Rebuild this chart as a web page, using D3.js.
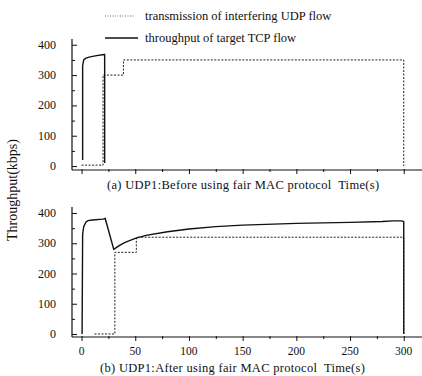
<!DOCTYPE html>
<html>
<head>
<meta charset="utf-8">
<script src="https://cdn.jsdelivr.net/npm/d3@7"></script>
<style>
  body { margin: 0; background: #fff; }
  svg text { font-family: "Liberation Serif", "DejaVu Serif", serif; fill: #111; }
</style>
</head>
<body>
<div id="chart"></div>
<script>
// panel (a): before fair MAC
const tcpBefore = [[1, 20], [1, 330], [2, 350], [4, 356], [8, 360], [14, 364], [21, 368], [21.5, 368], [21.5, 10]];
const udpBefore = [[0, 3], [20, 3], [20, 300], [39, 300], [39, 350], [300, 350], [300, 0]];

// panel (b): after fair MAC
const tcpAfter = [[0.5, 0], [1, 330], [2, 355], [4, 370], [6, 375], [10, 377], [20, 380], [22, 382],
  [30, 280], [35, 292], [40, 302], [50, 316], [60, 326], [80, 338], [100, 347], [125, 355],
  [150, 360], [200, 366], [250, 369], [280, 372], [290, 374], [298, 374], [300, 372], [300, 0]];
const udpAfter = [[12, 0], [31, 0], [31, 270], [51, 270], [51, 320], [300, 320], [300, 0]];

const yTicks = [0, 100, 200, 300, 400];
const xTicks = [0, 50, 100, 150, 200, 250, 300];

const legendLabels = ["transmission of interfering UDP flow", "throughput of target TCP flow"];
const captions = ["(a) UDP1:Before using fair MAC protocol  Time(s)", "(b) UDP1:After using fair MAC protocol  Time(s)"];

const W = 422, H = 376;
const svg = d3.select("#chart").append("svg").attr("width", W).attr("height", H);

const x = d3.scaleLinear().domain([-8.9, 317]).range([72, 422]);

const panels = [
  { tcp: tcpBefore, udp: udpBefore, top: 39, bottom: 170, yDom: [-13, 419], labels: false, caption: captions[0], capY: 189, capX: 107 },
  { tcp: tcpAfter, udp: udpAfter, top: 207, bottom: 337, yDom: [-10, 420], labels: true, caption: captions[1], capY: 372, capX: 100 },
];

panels.forEach(p => {
  const y = d3.scaleLinear().domain(p.yDom).range([p.bottom, p.top]);
  const g = svg.append("g");

  // y axis with inward ticks
  const yAxis = g.append("g").attr("transform", `translate(72,0)`)
    .call(d3.axisRight(y).tickValues(d3.range(0, 401, 50)).tickSize(4).tickFormat(""));
  yAxis.select(".domain").attr("d", `M0,${p.top}V${p.bottom}`).attr("stroke", "#111").attr("stroke-width", 1.2);
  yAxis.selectAll(".tick line").attr("stroke", "#111").attr("x2", d => d % 100 === 0 ? 5 : 3);

  g.selectAll(".ylab").data(yTicks).join("text")
    .attr("x", 56).attr("y", d => y(d) + 4)
    .attr("text-anchor", "end").attr("font-size", 12)
    .text(d => d);

  // x axis
  const xAxis = g.append("g").attr("transform", `translate(0,${p.bottom})`)
    .call(d3.axisBottom(x).tickValues(d3.range(0, 301, 25)).tickSize(4).tickFormat(""));
  xAxis.select(".domain").attr("d", `M72,0H422`).attr("stroke", "#111").attr("stroke-width", 1.2);
  xAxis.selectAll(".tick line").attr("stroke", "#111").attr("y1", -1).attr("y2", d => d % 50 === 0 ? 4 : 2);

  if (p.labels) {
    g.selectAll(".xlab").data(xTicks).join("text")
      .attr("x", d => x(d)).attr("y", p.bottom + 18)
      .attr("text-anchor", "middle").attr("font-size", 11.5)
      .text(d => d);
  }

  const line = d3.line().x(d => x(d[0])).y(d => y(d[1]));

  g.append("path").datum(p.udp).attr("d", line)
    .attr("fill", "none").attr("stroke", "#222").attr("stroke-width", 1)
    .attr("stroke-dasharray", "2,1.5");

  g.append("path").datum(p.tcp).attr("d", line)
    .attr("fill", "none").attr("stroke", "#111").attr("stroke-width", 1.4);

  g.append("text").attr("x", p.capX).attr("y", p.capY)
    .attr("font-size", 12.5).attr("letter-spacing", 0.3)
    .attr("xml:space", "preserve").text(p.caption);
});

// legend
const legend = svg.append("g");
legend.append("line").attr("x1", 105).attr("x2", 134).attr("y1", 16).attr("y2", 16)
  .attr("stroke", "#666").attr("stroke-width", 1).attr("stroke-dasharray", "1,1.5");
legend.append("line").attr("x1", 105).attr("x2", 138).attr("y1", 38).attr("y2", 38)
  .attr("stroke", "#111").attr("stroke-width", 1.4);
legend.selectAll(".lt").data(legendLabels).join("text")
  .attr("x", 145).attr("y", (d, i) => 20 + i * 22)
  .attr("font-size", 12.5).text(d => d);

// y axis label
svg.append("text").attr("transform", "translate(17,190) rotate(-90)")
  .attr("text-anchor", "middle").attr("font-size", 14).text("Throughput(kbps)");
</script>
</body>
</html>
